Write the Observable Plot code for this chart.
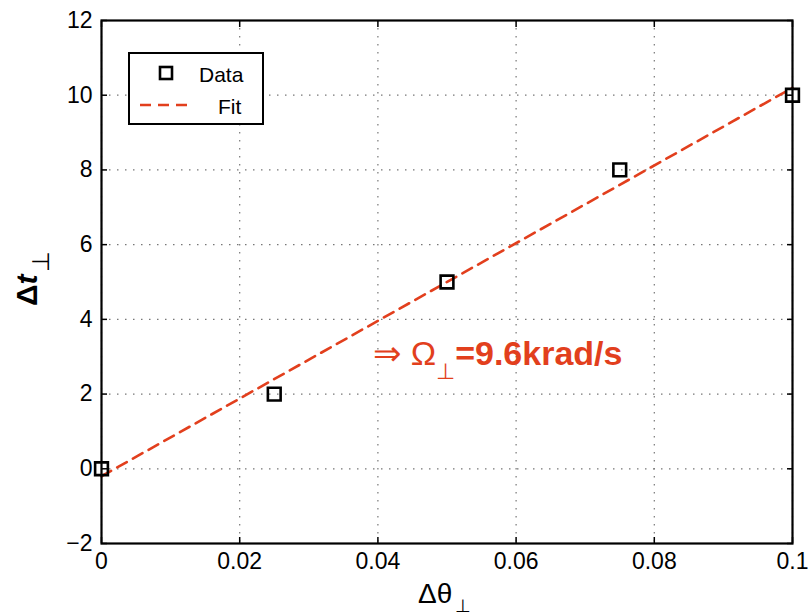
<!DOCTYPE html>
<html>
<head>
<meta charset="utf-8">
<script src="https://cdn.jsdelivr.net/npm/d3@7"></script>
<script src="https://cdn.jsdelivr.net/npm/@observablehq/plot@0.6"></script>
<style>
  html, body { margin: 0; padding: 0; background: #fff; }
  #chart svg { display: block; }
</style>
</head>
<body>
<div id="chart"></div>
<script>
// Data
const dTheta = [0, 0.025, 0.05, 0.075, 0.1];
const dT = [0, 2, 5, 8, 10];
const fitX = [0, 0.1];
const fitY = [-0.2, 10.2];
const xTicks = [0, 0.02, 0.04, 0.06, 0.08, 0.1];
const yTicks = [-2, 0, 2, 4, 6, 8, 10, 12];
const annotationPos = [0.0394, 2.76];

const points = dTheta.map((x, i) => ({x, y: dT[i]}));
const fit = fitX.map((x, i) => ({x, y: fitY[i]}));

const RED = "#e23f1d";
const FONT = "'Liberation Sans', Arial, Helvetica, sans-serif";
const fmt = d => String(d);

const chart = Plot.plot({
  width: 809,
  height: 616,
  marginLeft: 101,
  marginRight: 17,
  marginTop: 20,
  marginBottom: 73,
  style: {fontFamily: FONT, fontSize: "23px", color: "#000", background: "#fff"},
  x: {domain: [0, 0.1]},
  y: {domain: [-2, 12]},
  marks: [
    Plot.gridX(xTicks, {stroke: "#777", strokeOpacity: 1, strokeWidth: 1.2, strokeDasharray: "1.5,6.5"}),
    Plot.gridY(yTicks, {stroke: "#777", strokeOpacity: 1, strokeWidth: 1.2, strokeDasharray: "1.5,6.5"}),
    Plot.axisX(xTicks, {anchor: "bottom", tickSize: -6, tickPadding: 15, tickFormat: fmt, label: null, fontSize: 23, strokeWidth: 1.5}),
    Plot.axisY(yTicks, {anchor: "left", tickSize: -6, tickPadding: 15, label: null, fontSize: 23, strokeWidth: 1.5}),
    Plot.axisX(xTicks, {anchor: "top", tickSize: -6, tickFormat: () => "", label: null, strokeWidth: 1.5}),
    Plot.axisY(yTicks, {anchor: "right", tickSize: -6, tickFormat: () => "", label: null, strokeWidth: 1.5}),
    Plot.line(fit, {x: "x", y: "y", stroke: RED, strokeWidth: 2.6, strokeDasharray: "11,7"}),
    Plot.dot(points, {x: "x", y: "y", symbol: "square", r: 7.2, stroke: "#000", strokeWidth: 2.6, fill: "none"}),
    Plot.frame({stroke: "#000", strokeWidth: 2.2})
  ]
});

document.getElementById("chart").appendChild(chart);

const svg = d3.select(chart);
const sx = chart.scale("x"), sy = chart.scale("y");

// Y-axis label: Δt⊥ (rotated)
const yl = svg.append("text")
  .attr("transform", "translate(37,306) rotate(-90)")
  .attr("text-anchor", "start")
  .attr("font-family", FONT).attr("font-size", 30).attr("font-weight", "bold").attr("fill", "#000");
yl.append("tspan").text("Δ");
yl.append("tspan").attr("font-style", "italic").text("t");
yl.append("tspan").attr("font-weight", "normal").attr("font-size", 24).attr("dy", 12).attr("dx", 2).text("⊥");

// X-axis label: Δθ⊥
const xl = svg.append("text")
  .attr("x", 418).attr("y", 603)
  .attr("text-anchor", "start")
  .attr("font-family", FONT).attr("font-size", 28).attr("fill", "#000");
xl.append("tspan").text("Δθ");
xl.append("tspan").attr("font-size", 18).attr("dy", 9).attr("dx", 3).text("⊥");

// Annotation
const an = svg.append("text")
  .attr("x", sx.apply(annotationPos[0])).attr("y", sy.apply(annotationPos[1]))
  .attr("text-anchor", "start")
  .attr("font-family", FONT).attr("font-size", 34).attr("fill", RED)
  .attr("xml:space", "preserve").style("white-space", "pre");
an.append("tspan").text("⇒ Ω");
an.append("tspan").attr("font-size", 22).attr("dy", 14).text("⊥");
an.append("tspan").attr("font-weight", "bold").attr("dy", -14).text("=9.6krad/s");

// Legend
const lg = svg.append("g").attr("font-family", FONT).attr("font-size", 21).attr("text-anchor", "start");
lg.append("rect").attr("x", 129).attr("y", 53).attr("width", 134).attr("height", 71)
  .attr("fill", "#fff").attr("stroke", "#000").attr("stroke-width", 2);
lg.append("rect").attr("x", 160).attr("y", 67).attr("width", 12).attr("height", 12)
  .attr("fill", "none").attr("stroke", "#000").attr("stroke-width", 2.6);
lg.append("text").attr("x", 199).attr("y", 82).attr("fill", "#000").text("Data");
lg.append("line").attr("x1", 140).attr("x2", 193).attr("y1", 105).attr("y2", 105)
  .attr("stroke", RED).attr("stroke-width", 2.6).attr("stroke-dasharray", "11,7");
lg.append("text").attr("x", 218).attr("y", 114).attr("fill", "#000").text("Fit");
</script>
</body>
</html>
